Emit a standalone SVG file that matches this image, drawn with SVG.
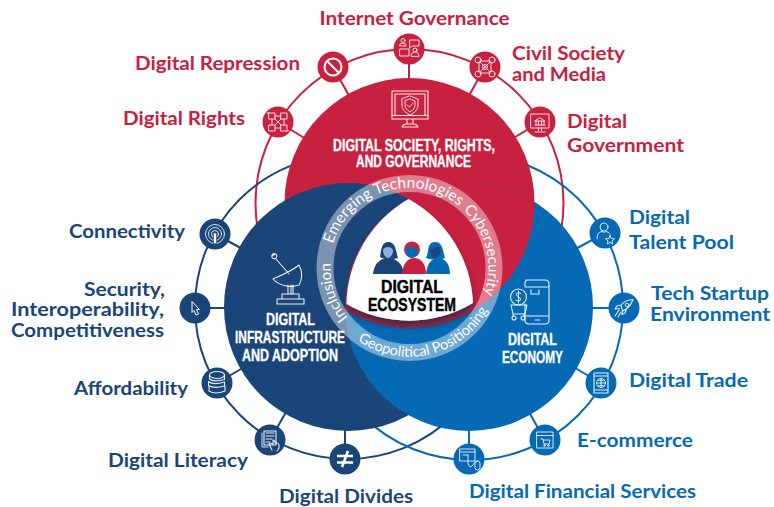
<svg xmlns="http://www.w3.org/2000/svg" width="774" height="507" viewBox="0 0 774 507">
<style>
.r{fill:#c8203f}.d{fill:#1a4578}.b{fill:#0669b4}
.rs{stroke:#c8203f}.ds{stroke:#1a4578}.bs{stroke:#0669b4}
#connectors *{fill:none;stroke-width:2}
.lab{font-family:"Lato","Open Sans",sans-serif;font-weight:700;font-size:19px}
.hd{font-family:"Liberation Sans Narrow","Liberation Sans",sans-serif;font-weight:700;font-size:17px;fill:#fff;stroke:#fff;stroke-width:.35}
.eco{font-family:"Liberation Sans Narrow","Liberation Sans",sans-serif;font-weight:700;font-size:18.5px;fill:#000;stroke:#000;stroke-width:.45}
.rt{font-family:"Lato","Open Sans",sans-serif;fill:#fff}
.i{fill:none;stroke:#fff;stroke-width:.9;stroke-linejoin:round;stroke-linecap:round;opacity:.92}
.i2{fill:none;stroke:#fff;stroke-width:1.1;stroke-linejoin:round;stroke-linecap:round;opacity:.9}
</style>
<defs>
<clipPath id="cb"><circle cx="469" cy="307" r="124"/></clipPath>
<filter id="sh" x="-20%" y="-20%" width="140%" height="140%"><feDropShadow dx="0" dy="6" stdDeviation="3.500" flood-color="#0a2648" flood-opacity=".7"/></filter>
<path id="p1" d="M333 244A79 79 0 0 1 465.400 212"/>
<path id="p2" d="M463.400 210.200A79 79 0 0 1 481 301.400"/>
<path id="p3" d="M348.100 317.700A79 79 0 0 1 330.900 259.700"/>
<path id="p4" d="M357.800 340.400A89 89 0 0 0 494 295"/>
</defs>
<g id="connectors">
<circle class="rs" cx="409.500" cy="203" r="154"/>
<circle class="ds" cx="347" cy="307" r="152"/>
<circle class="bs" cx="470" cy="307" r="153"/>
<path class="rs" d="M278 122L311 142M333 67L352 101M409 49V87M485 67L466 101M540 122L507 142"/>
<path class="ds" d="M215 234L248 252M195 308H233M217 383L249.500 364M270 440L289 407M345 459V421"/>
<path class="bs" d="M605 233L571 251.500M624 308H585M601 383L568 364M545 440L526 407M469 459V421"/>
</g>
<g id="venn">
<circle class="r" cx="409.500" cy="203" r="125"/>
<circle class="d" cx="348" cy="307" r="124"/>
<circle class="b" cx="469" cy="307" r="124"/>
<circle class="r" cx="409.500" cy="203" r="125" clip-path="url(#cb)"/>
</g>
<g id="core">
<path d="M408.500 199A124 124 0 0 1 473 303A125 125 0 0 1 346.500 304A124 124 0 0 1 408.500 199Z" fill="#fff" filter="url(#sh)"/>
<circle cx="409.500" cy="268" r="84.500" fill="none" stroke="#fff" stroke-opacity=".42" stroke-width="17"/>
<text class="rt" font-size="15.500"><textPath href="#p1">Emerging Technologies</textPath></text>
<text class="rt" font-size="15"><textPath href="#p2">Cybersecurity</textPath></text>
<text class="rt" font-size="15"><textPath href="#p3">Inclusion</textPath></text>
<text class="rt" font-size="14.500"><textPath href="#p4">Geopolitical Positioning</textPath></text>
<g id="people">
<path class="d" d="M373 274C374 263 381 258 388 258C396 258 403 264 404 274Z"/>
<path class="d" d="M380 257C381 252 381 242 388 242C396 242 396 252 398 258C392 260 385 260 380 257Z"/>
<path d="M383 250C384 246 392 246 393 250C393 255 390 258 388 258C386 258 383 255 383 250Z" fill="#8fb0da"/>
<path class="r" d="M402 274C403 263 408 258 414 258C421 258 426 264 426 274Z"/>
<circle class="r" cx="412" cy="249.500" r="8"/>
<path class="b" d="M405 250L409 246L417 249L419 251C417 256 414 258 412 258C408 258 406 255 405 250Z"/>
<path class="b" d="M426 274C427 263 432 258 438 258C445 258 450 264 450 274Z"/>
<path class="b" d="M426 258C429 252 427 242 435 242C443 242 443 252 445 258C439 260 432 260 426 258Z"/>
<path class="d" d="M430 249C433 249 436 248 438 246C440 249 441 250 441 251C439 256 437 258 435 258C432 258 430 254 430 249Z"/>
<rect x="373" y="274" width="77" height="1" fill="#fff"/>
</g>
<text class="eco" x="381" y="293" textLength="62" lengthAdjust="spacingAndGlyphs">DIGITAL</text>
<text class="eco" x="368" y="311" textLength="88" lengthAdjust="spacingAndGlyphs">ECOSYSTEM</text>
</g>
<g id="society">
<text class="hd" x="333" y="151" textLength="162" lengthAdjust="spacingAndGlyphs">DIGITAL SOCIETY, RIGHTS,</text>
<text class="hd" x="356" y="167" textLength="115" lengthAdjust="spacingAndGlyphs">AND GOVERNANCE</text>
<path class="i2" d="M392 91H428V119H392ZM395 94H425V115.500H395ZM392 115.500H428M407 119V124M413 119V124M402 127Q403 124 407 124H413Q417 124 418 127Z"/>
<path class="i" d="M410 96L418 99V105C418 110 414 113 410 115C406 113 402 110 402 105V99ZM410 99L415 101V105C415 108 413 110 410 112C407 110 405 108 405 105V101ZM407 105L409.500 107L413 103"/>
</g>
<g id="infrastructure">
<text class="hd" x="266" y="325" textLength="49" lengthAdjust="spacingAndGlyphs">DIGITAL</text>
<text class="hd" x="235" y="343" textLength="110" lengthAdjust="spacingAndGlyphs">INFRASTRUCTURE</text>
<text class="hd" x="242" y="361" textLength="96" lengthAdjust="spacingAndGlyphs">AND ADOPTION</text>
<path class="i2" d="M299 265C303 272 302 280 299 285C291 288 279 286 273 279C280 276 292 271 299 265ZM276 259L289 274M272 256L275 254M276 258a2.500 2.500 0 1 1 0.100 -.1ZM288 285V294H293V285M291 285V294M282 299V294H299V299M277 304V299H304V304Z"/>
</g>
<g id="economy">
<text class="hd" x="508" y="345" textLength="49" lengthAdjust="spacingAndGlyphs">DIGITAL</text>
<text class="hd" x="502" y="363" textLength="61" lengthAdjust="spacingAndGlyphs">ECONOMY</text>
<path class="i2" d="M526 280H545Q549 280 549 284V320Q549 324 545 324H529Q525 324 525 320V304M525 286V283Q525 280 528 280M525 287H549M525 316H549M535 320H540M531 290V294M531 294H539V290"/>
<circle class="i2" cx="518.500" cy="297" r="8"/>
<path class="i" d="M521 293.500Q518 291.500 516.500 293.500Q516 296 518.500 297Q521 298 520.500 300Q519 302 516 300.500M518.500 291V303"/>
<path class="i2" d="M511 305H527L525 314H513ZM513 314V316M524 314V316"/>
<circle class="i2" cx="514" cy="318" r="2"/><circle class="i2" cx="523" cy="318" r="2"/>
</g>
<g id="n-internet" transform="translate(409 49)"><circle class="r" r="15.500"/>
<path class="i" d="M-9.500 -3.500Q-9.500 -6 -6 -6Q-3 -6 -3 -3.500ZM1 -9H10V-3H3L1 -1ZM-9 0H0V7H-9ZM2 7Q2 3 6 3Q10 3 10 7Z"/><circle class="i" cx="-6" cy="-8.500" r="2"/><circle class="i" cx="6" cy="1" r="2"/>
<text class="lab r" x="-89.500" y="-24" textLength="190" lengthAdjust="spacingAndGlyphs">Internet Governance</text></g>
<g id="n-repression" transform="translate(333 67)"><circle class="r" r="15.500"/>
<circle r="8.500" fill="none" stroke="#fff" stroke-width="2"/><path d="M-6 -6L6 6" stroke="#fff" stroke-width="2"/>
<text class="lab r" x="-198" y="3" textLength="165" lengthAdjust="spacingAndGlyphs">Digital Repression</text></g>
<g id="n-rights" transform="translate(278 122)"><circle class="r" r="15.500"/>
<path class="i" d="M-9 -9H-3V-3H-9ZM3 -9H9V-3H3ZM-9 3H-3V9H-9ZM3 3H9V9H3ZM-3 -6H3M-6 -3V3M6 -3V3M-3 6H3M-3 -3L3 3M3 -3L-3 3M-11 -9H-9M9 9H11"/>
<text class="lab r" x="-155" y="3" textLength="122" lengthAdjust="spacingAndGlyphs">Digital Rights</text></g>
<g id="n-civil" transform="translate(485 67)"><circle class="r" r="15.500"/>
<path class="i" d="M-5 -5L5 5M5 -5L-5 5M-5 -6H5M-5 6H5M-6 -5V5M6 -5V5"/><circle class="i" cx="-7" cy="-7" r="3"/><circle class="i" cx="7" cy="-7" r="3"/><circle class="i" cx="-7" cy="7" r="3"/><circle class="i" cx="7" cy="7" r="3"/><circle class="i" r="2.500"/>
<text class="lab r" x="27" y="-7" textLength="113" lengthAdjust="spacingAndGlyphs">Civil Society</text>
<text class="lab r" x="27" y="14" textLength="94" lengthAdjust="spacingAndGlyphs">and Media</text></g>
<g id="n-gov" transform="translate(540 122)"><circle class="r" r="15.500"/>
<path class="i" d="M-9 -8H9V6H-9ZM-1.500 6V8.500M1.500 6V8.500M-5 10H5M-5 3H5M-4 3V-1M-1.500 3V-1M1.500 3V-1M4 3V-1M-5 -1H5L0 -4Z"/>
<text class="lab r" x="27" y="6" textLength="60" lengthAdjust="spacingAndGlyphs">Digital</text>
<text class="lab r" x="27" y="30" textLength="117" lengthAdjust="spacingAndGlyphs">Government</text></g>
<g id="n-connectivity" transform="translate(215 234)"><circle class="d" r="15.500"/>
<circle class="i" r="9.500"/><circle class="i" r="6.500"/><circle class="i" r="3.500"/><path d="M-1.500 -1H1.500L1.500 9.500H-1.500Z" fill="#fff" stroke="#1a4578" stroke-width=".6"/>
<text class="lab d" x="-146" y="4" textLength="116" lengthAdjust="spacingAndGlyphs">Connectivity</text></g>
<g id="n-security" transform="translate(195 308)"><circle class="d" r="15.500"/>
<path d="M-3 -6.500L4.500 1.500H1.500L3.500 6L1 7L-1 2.500L-3 4.500Z" fill="#1a4578" stroke="#fff" stroke-width="1"/>
<text class="lab d" x="-111" y="-12" textLength="81" lengthAdjust="spacingAndGlyphs">Security,</text>
<text class="lab d" x="-184" y="8" textLength="153" lengthAdjust="spacingAndGlyphs">Interoperability,</text>
<text class="lab d" x="-184" y="29" textLength="153" lengthAdjust="spacingAndGlyphs">Competitiveness</text></g>
<g id="n-affordability" transform="translate(217 383)"><circle class="d" r="15.500"/>
<ellipse class="i2" cy="-8" rx="7.500" ry="3.500"/><path class="i2" d="M-7.500 -8V-4Q-4 -.5 7.500 -3.500V-8M-8.500 -1.500Q-4 2.500 7.500 -1V3Q-3 6 -8.500 2.500ZM-8 3V8Q-2 12 8 8V3"/>
<text class="lab d" x="-143" y="12" textLength="114" lengthAdjust="spacingAndGlyphs">Affordability</text></g>
<g id="n-literacy" transform="translate(270 440)"><circle class="d" r="15.500"/>
<path class="i2" d="M-6 -9H6V5H-6ZM-4 -7H4M-4 -4H4M-4 -1H2M-4 2H0M2 10L-1 4Q1 2 3 5V0Q5 0 5 3Q8 2 9 5V8L7 11"/><path class="i" d="M-8 -7V7H-2"/>
<text class="lab d" x="-162" y="27" textLength="140" lengthAdjust="spacingAndGlyphs">Digital Literacy</text></g>
<g id="n-divides" transform="translate(345 459)"><circle class="d" r="15.500"/>
<path d="M-8 -3H8M-8 3.500H8M3 -8L-3 8" stroke="#fff" stroke-width="2.600" fill="none"/>
<text class="lab d" x="-66" y="44" textLength="134" lengthAdjust="spacingAndGlyphs">Digital Divides</text></g>
<g id="n-talent" transform="translate(605 233)"><circle class="b" r="15.500"/>
<circle class="i" cx="-1" cy="-6" r="4"/><path class="i" d="M-8 6Q-8 -1 -3 -1.500Q-1 0 1 -1.500Q4 -1 5 1"/><path class="i" d="M5 2.500L6.300 5.500L9.500 5.800L7 8L7.800 11L5 9.400L2.200 11L3 8L.5 5.800L3.700 5.500Z"/>
<text class="lab b" x="24" y="-9" textLength="61" lengthAdjust="spacingAndGlyphs">Digital</text>
<text class="lab b" x="24" y="16" textLength="105" lengthAdjust="spacingAndGlyphs">Talent Pool</text></g>
<g id="n-startup" transform="translate(624 308)"><circle class="b" r="15.500"/>
<path class="i2" d="M9 -8.500Q1 -8 -3 -3L-1.500 3Q6 0 9 -8.500ZM-3 -3L-7 -2L-9 1L-4.500 .5M-1.500 3L-2 6.500L1 5L2.500 .5M-5 2L-9 8M-3 4L-6 9"/><circle class="i" cx="3" cy="-3" r="1.800"/>
<text class="lab b" x="27" y="-8" textLength="118" lengthAdjust="spacingAndGlyphs">Tech Startup</text>
<text class="lab b" x="26" y="13" textLength="120" lengthAdjust="spacingAndGlyphs">Environment</text></g>
<g id="n-trade" transform="translate(601 383)"><circle class="b" r="15.500"/>
<path class="i2" d="M-7 -10H7V10H-7ZM-7 -7H7M-7 7H7"/><circle class="i" r="4.500"/><path class="i" d="M-4.500 0H4.500M0 -4.500V4.500M-3 -3Q0 -1.500 3 -3M-3 3Q0 1.500 3 3"/>
<text class="lab b" x="28" y="4" textLength="119" lengthAdjust="spacingAndGlyphs">Digital Trade</text></g>
<g id="n-ecommerce" transform="translate(545 440)"><circle class="b" r="15.500"/>
<path class="i" d="M-8 -8H8V8H-8ZM-8 -4.500H8M-4 -1H-2L-1 4H4L5 0H-1.500"/><circle class="i" cx="-.5" cy="5.500" r=".8"/><circle class="i" cx="3.500" cy="5.500" r=".8"/>
<text class="lab b" x="32" y="7" textLength="116" lengthAdjust="spacingAndGlyphs">E-commerce</text></g>
<g id="n-financial" transform="translate(469 459)"><circle class="b" r="15.500"/>
<path class="i" d="M-9 -10H6V2H-9ZM-9 -7H6M-6 -4H-1M-1 -4V5Q1 10 4 6Q5 3 8 2"/><rect class="i" x="6" y="2" width="5" height="9" rx="2.500"/>
<text class="lab b" x="0" y="39" textLength="227" lengthAdjust="spacingAndGlyphs">Digital Financial Services</text></g>
</svg>
